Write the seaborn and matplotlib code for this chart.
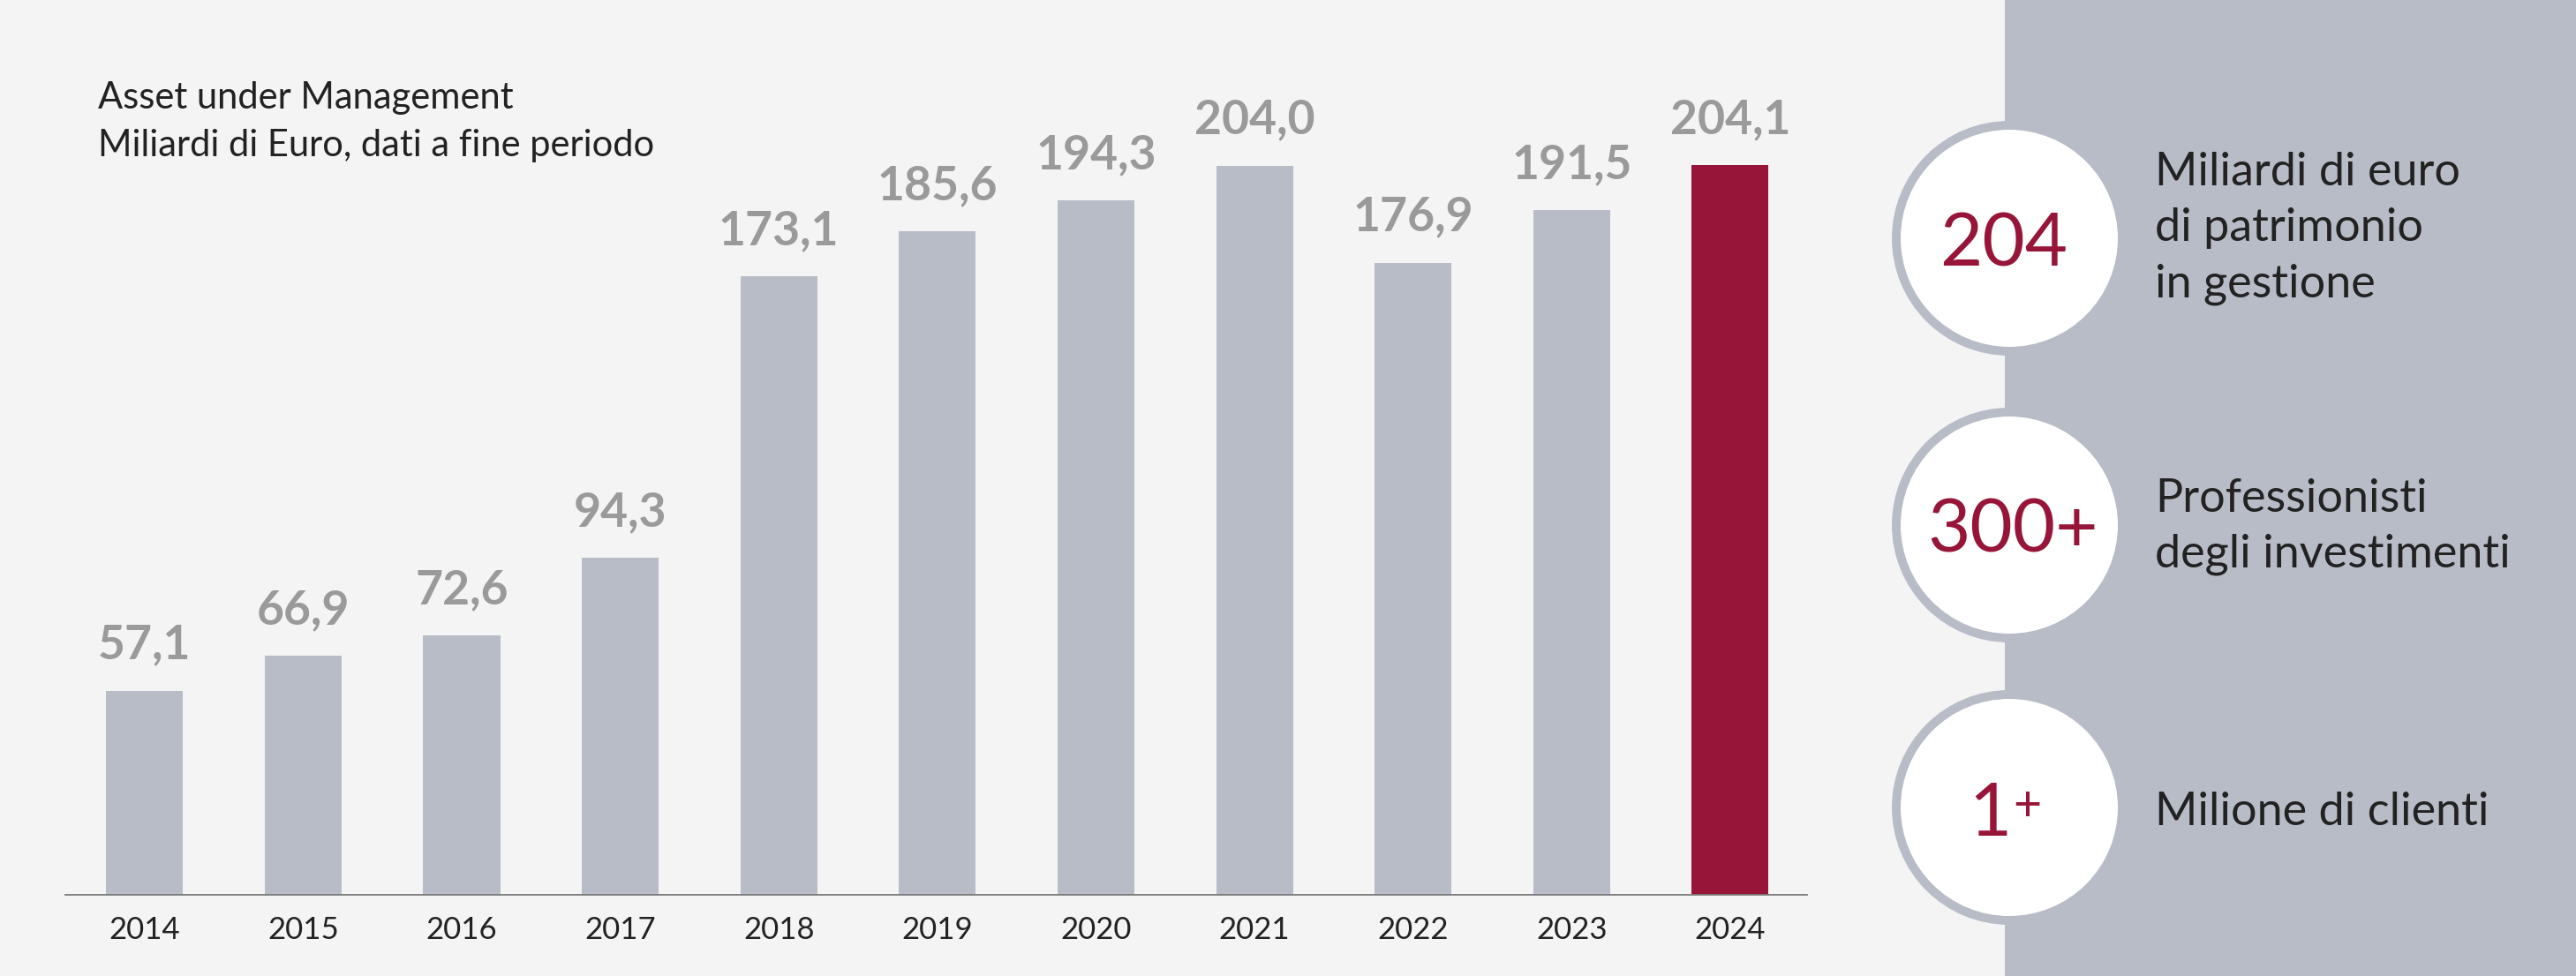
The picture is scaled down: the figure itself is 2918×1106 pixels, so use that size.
import matplotlib
matplotlib.use("Agg")
import matplotlib.pyplot as plt
import seaborn as sns
import pandas as pd
from matplotlib.patches import Circle, Rectangle

# chart data
years = ["2014", "2015", "2016", "2017", "2018", "2019", "2020", "2021", "2022", "2023", "2024"]
aum = [57.1, 66.9, 72.6, 94.3, 173.1, 185.6, 194.3, 204.0, 176.9, 191.5, 204.1]
title_lines = ["Asset under Management", "Miliardi di Euro, dati a fine periodo"]

# side panel key figures
stat_numbers = ["204", "300+", "1"]
stat_sups = ["", "", "+"]
stat_texts = [
    ["Miliardi di euro", "di patrimonio", "in gestione"],
    ["Professionisti", "degli investimenti"],
    ["Milione di clienti"],
]

BG = "#f4f4f4"
GREY = "#b8bcc6"
RED = "#961538"
LABEL = "#9a9a9a"
DARK = "#222222"

W, H = 2918, 1106
DPI = 100

sns.set_theme(style="white")
plt.rcParams["font.family"] = ["Lato", "DejaVu Sans"]

fig = plt.figure(figsize=(W / DPI, H / DPI), dpi=DPI, facecolor=BG)

# overlay axes in pixel coordinates (for panel, circles, texts)
over = fig.add_axes([0, 0, 1, 1], zorder=0)
over.set_xlim(0, W)
over.set_ylim(H, 0)
over.axis("off")
over.add_patch(Rectangle((2271, 0), W - 2271, H, facecolor=GREY, edgecolor="none"))

# bar chart
axis_y = 1014
px_per_unit = 4.05
ax = fig.add_axes([74 / W, 1 - axis_y / H, (2047 - 74) / W, axis_y / H], zorder=1)
ax.patch.set_alpha(0)

df = pd.DataFrame({"year": years, "aum": aum})
colors = {y: GREY for y in years}
colors[years[-1]] = RED
sns.barplot(data=df, x="year", y="aum", hue="year", palette=colors, width=0.485,
            legend=False, ax=ax, saturation=1, linewidth=0)

ax.set_xlim(-0.5, len(years) - 0.515)
ax.set_ylim(0, axis_y / px_per_unit)
ax.set_xlabel("")
ax.set_ylabel("")
ax.set_yticks([])
for s in ["top", "right", "left"]:
    ax.spines[s].set_visible(False)
ax.spines["bottom"].set_color("#7a7a7a")
ax.spines["bottom"].set_linewidth(1.3)
ax.tick_params(axis="x", length=0, pad=17, labelsize=25, labelcolor=DARK)

for i, v in enumerate(aum):
    ax.annotate(f"{v:.1f}".replace(".", ","), (i, v), xytext=(0, 26),
                textcoords="offset points", ha="center", va="baseline",
                fontsize=38.5, fontweight="bold", color=LABEL)

# title
for k, line in enumerate(title_lines):
    over.text(111, 123 + k * 54, line, fontsize=30, color=DARK, va="baseline", ha="left")

# key figure circles
centers_y = [270, 595, 915]
first_baseline = [210, 580, 935]
cx = 2276
for k, cy in enumerate(centers_y):
    over.add_patch(Circle((cx, cy), 133, facecolor=GREY, edgecolor="none"))
    over.add_patch(Circle((cx, cy), 123, facecolor="white", edgecolor="none"))
    if stat_sups[k]:
        over.text(cx + 2, cy + 32, stat_numbers[k], fontsize=60, color=RED,
                  ha="right", va="baseline")
        over.text(cx + 4, cy + 15, stat_sups[k], fontsize=40, color=RED,
                  ha="left", va="baseline")
    else:
        shift = -6 if k == 0 else 4
        over.text(cx + shift, cy + 31, stat_numbers[k], fontsize=60, color=RED,
                  ha="center", va="baseline")
    for j, line in enumerate(stat_texts[k]):
        over.text(2441, first_baseline[k] + j * 63, line, fontsize=37.5, color=DARK,
                  ha="left", va="baseline")

fig.savefig("out.png", dpi=DPI, facecolor=BG)
